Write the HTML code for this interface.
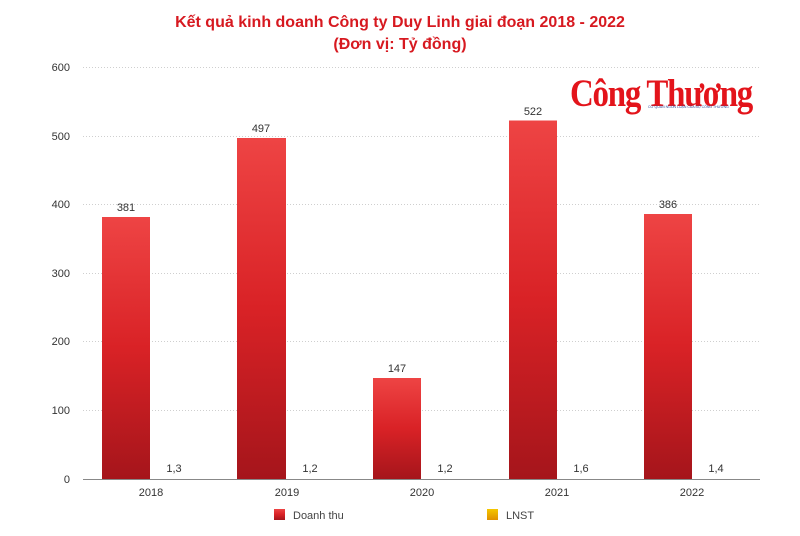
<!DOCTYPE html>
<html><head><meta charset="utf-8"><style>
html,body{margin:0;padding:0;background:#fff;}
svg{display:block;font-family:"Liberation Sans",sans-serif;}
</style></head><body>
<svg width="800" height="536" viewBox="0 0 800 536" xmlns="http://www.w3.org/2000/svg">
<defs>
<linearGradient id="g" x1="0" y1="0" x2="0" y2="1">
<stop offset="0" stop-color="#ee4444"/><stop offset="0.5" stop-color="#d92226"/><stop offset="1" stop-color="#a5151b"/>
</linearGradient>
<linearGradient id="y" x1="0" y1="0" x2="0" y2="1">
<stop offset="0" stop-color="#f5c800"/><stop offset="1" stop-color="#e09000"/>
</linearGradient>
</defs>
<text x="400" y="27" text-anchor="middle" font-size="16" font-weight="bold" fill="#d71920">Kết quả kinh doanh Công ty Duy Linh giai đoạn 2018 - 2022</text>
<text x="400" y="49" text-anchor="middle" font-size="16" font-weight="bold" fill="#d71920">(Đơn vị: Tỷ đồng)</text>
<g stroke="#cfcfcf" stroke-dasharray="1,2" stroke-width="1">
<line x1="83" x2="760" y1="67.5" y2="67.5"/>
<line x1="83" x2="760" y1="136.5" y2="136.5"/>
<line x1="83" x2="760" y1="204.5" y2="204.5"/>
<line x1="83" x2="760" y1="273.5" y2="273.5"/>
<line x1="83" x2="760" y1="341.5" y2="341.5"/>
<line x1="83" x2="760" y1="410.5" y2="410.5"/>
</g>
<line x1="83" x2="760" y1="479.5" y2="479.5" stroke="#888"/>
<g font-size="11" fill="#333" text-anchor="end">
<text x="70" y="71">600</text><text x="70" y="140">500</text><text x="70" y="208">400</text>
<text x="70" y="277">300</text><text x="70" y="345">200</text><text x="70" y="414">100</text><text x="70" y="483">0</text>
</g>
<text x="570" y="106" font-family="'Liberation Serif',serif" font-weight="bold" font-size="39" fill="#e3141b" letter-spacing="-1.5" textLength="182" lengthAdjust="spacingAndGlyphs">Công Thương</text>
<text x="648" y="108" font-size="3.5" fill="#2a4a9a">CƠ QUAN NGÔN LUẬN CỦA BỘ CÔNG THƯƠNG</text>
<g fill="url(#g)">
<rect x="102" y="217" width="48" height="262"/>
<rect x="237" y="138" width="49" height="341"/>
<rect x="373" y="378" width="48" height="101"/>
<rect x="509" y="120.5" width="48" height="358.5"/>
<rect x="644" y="214" width="48" height="265"/>
</g>
<g font-size="11" fill="#333" text-anchor="middle">
<text x="126" y="211">381</text><text x="261" y="132">497</text><text x="397" y="372">147</text>
<text x="533" y="115">522</text><text x="668" y="208">386</text>
<text x="174" y="472">1,3</text><text x="310" y="472">1,2</text><text x="445" y="472">1,2</text>
<text x="581" y="472">1,6</text><text x="716" y="472">1,4</text>
<text x="151" y="496">2018</text><text x="287" y="496">2019</text><text x="422" y="496">2020</text>
<text x="557" y="496">2021</text><text x="692" y="496">2022</text>
</g>
<rect x="274" y="509" width="11" height="11" fill="url(#g)"/>
<text x="293" y="519" font-size="11" fill="#444">Doanh thu</text>
<rect x="487" y="509" width="11" height="11" fill="url(#y)"/>
<text x="506" y="519" font-size="11" fill="#444">LNST</text>
</svg>
</body></html>
